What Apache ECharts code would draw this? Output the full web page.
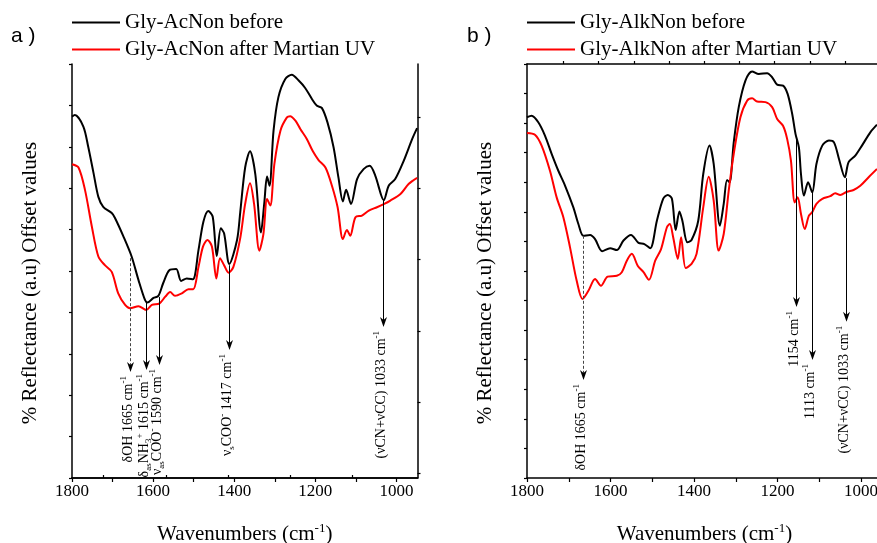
<!DOCTYPE html>
<html><head><meta charset="utf-8">
<script src="https://cdn.jsdelivr.net/npm/echarts@6/dist/echarts.min.js"></script>
<style>html,body{margin:0;padding:0;background:#fff}#c{width:877px;height:543px}</style>
</head><body><div id="c"></div>
<script>
// ---------- Panel a data ----------
const aBeforeX = [1800,1793,1772,1760,1747,1735,1723,1702,1694,1673,1653,1636,1620,1614,1599,1587,1575,1560,1543,1531,1517,1502,1488,1476,1464,1453,1443,1433,1425,1412,1393,1385,1373,1361,1348,1334,1326,1319,1313,1303,1291,1274,1258,1241,1225,1208,1196,1184,1170,1155,1143,1132,1124,1112,1097,1081,1066,1052,1031,1019,1003,982,961,949];
const aBeforeY = [8.73,8.77,8.49,8.00,7.37,6.79,6.55,6.40,6.28,5.83,5.35,4.78,4.30,4.24,4.35,4.40,4.71,5.02,5.05,4.76,4.82,4.80,5.51,6.19,6.45,6.31,5.36,6.03,5.91,5.17,5.75,6.43,7.50,7.89,7.34,5.93,6.62,7.28,7.06,8.39,9.20,9.64,9.74,9.60,9.42,9.15,8.99,8.94,8.59,7.99,7.26,6.68,6.96,6.62,7.22,7.46,7.54,7.30,6.71,7.06,7.22,7.66,8.19,8.45];
const aAfterX = [1800,1784,1768,1751,1735,1719,1702,1686,1669,1657,1636,1617,1603,1584,1570,1558,1546,1529,1513,1501,1488,1477,1466,1455,1444,1435,1425,1414,1402,1385,1373,1361,1351,1338,1328,1319,1311,1301,1286,1270,1262,1249,1237,1221,1206,1192,1175,1159,1145,1132,1122,1114,1101,1085,1068,1048,1030,1015,990,970,949];
const aAfterY = [7.58,7.50,6.96,6.07,5.35,5.14,4.98,4.46,4.18,4.10,4.15,4.06,4.18,4.22,4.38,4.49,4.40,4.46,4.56,4.56,5.10,5.59,5.75,5.59,4.82,5.31,5.14,4.96,5.10,5.80,6.62,7.12,6.62,5.49,5.89,6.74,6.58,7.58,8.39,8.71,8.74,8.63,8.43,8.19,7.89,7.68,7.50,7.06,6.54,5.77,5.99,5.85,6.30,6.34,6.46,6.54,6.62,6.70,6.86,7.10,7.25];
const aNames = ['Gly-AcNon before', 'Gly-AcNon after Martian UV'];
// annotations a: wavenumber, start value, arrow-tip value, label
const annoAX = [1657, 1617, 1586, 1414, 1032];
const annoAFrom = [5.31, 4.24, 4.37, 5.14, 6.71];
const annoATo = [2.56, 2.61, 2.73, 3.09, 3.65];
const annoADashed = [true, false, false, false, false];
const annoAText = ['δOH 1665 cm{sup|-1}', 'δ{sub|as}NH{sub|3}{sup|+} 1615 cm{sup|-1}', 'ν{sub|as}COO{sup|-} 1590 cm{sup|-1}', 'ν{sub|s}COO{sup|-} 1417 cm{sup|-1}', '(νCN+νCC) 1033 cm{sup|-1}'];

// ---------- Panel b data ----------
const bBeforeX = [1800,1789,1773,1757,1741,1725,1709,1689,1677,1665,1649,1637,1620,1601,1585,1569,1551,1533,1519,1505,1489,1474,1463,1453,1444,1435,1428,1416,1406,1390,1378,1363,1353,1338,1329,1321,1315,1305,1293,1277,1261,1245,1225,1213,1201,1187,1176,1165,1157,1149,1144,1137,1127,1117,1107,1093,1077,1065,1053,1039,1030,1014,998,978,962];
const bBeforeY = [12.20,12.25,12.03,11.58,10.96,10.39,9.89,9.15,8.59,8.19,8.22,8.08,7.67,7.77,7.71,8.03,8.22,7.95,7.91,7.77,8.70,9.44,9.57,9.44,8.39,9.01,8.70,7.97,8.05,8.70,10.28,11.24,10.62,8.53,9.27,10.08,10.00,11.35,12.54,13.44,13.75,13.66,13.69,13.55,13.30,13.27,12.99,12.31,11.63,11.18,10.28,9.55,10.00,9.66,10.62,11.24,11.41,11.35,10.79,10.17,10.68,10.90,11.24,11.69,11.95];
const bAfterX = [1800,1781,1765,1745,1729,1713,1697,1681,1667,1653,1637,1623,1607,1585,1573,1561,1549,1535,1521,1508,1493,1479,1465,1458,1450,1439,1431,1420,1406,1394,1378,1365,1353,1341,1329,1317,1305,1289,1273,1261,1249,1229,1213,1201,1187,1177,1168,1159,1152,1144,1135,1125,1117,1107,1093,1074,1062,1050,1034,1018,1002,982,962];
const bAfterY = [11.67,11.61,11.24,10.39,9.49,8.82,7.80,6.67,6.05,6.33,6.73,6.50,6.81,6.84,6.96,7.35,7.58,7.18,6.96,6.70,7.35,7.74,8.48,8.59,8.14,7.41,8.14,7.10,7.24,7.58,9.15,10.19,9.38,7.69,8.25,9.72,10.96,12.20,12.76,12.84,12.73,12.71,12.54,12.14,11.91,11.46,10.73,9.32,9.49,8.93,8.42,8.87,8.99,9.27,9.44,9.53,9.63,9.57,9.68,9.74,9.88,10.17,10.45];
const bNames = ['Gly-AlkNon before', 'Gly-AlkNon after Martian UV'];
const annoBX = [1666, 1156, 1117, 1037];
const annoBFrom = [8.19, 11.45, 9.64, 10.14];
const annoBTo = [3.31, 5.78, 3.99, 5.28];
const annoBDashed = [true, false, false, false];
const annoBText = ['δOH 1665 cm{sup|-1}', '1154 cm{sup|-1}', '1113 cm{sup|-1}', '(νCN+νCC) 1033 cm{sup|-1}'];

// ---------- axes ticks ----------
const xLabelVals = [1800, 1600, 1400, 1200, 1000];
const xTickVals = [1800, 1700, 1600, 1500, 1400, 1300, 1200, 1100, 1000];
const aTopTicks = [1723, 1568, 1414, 1262, 1108];
const aRightTicks = [0.11, 1.83, 3.55, 5.28, 6.99, 8.71];
const bTopTicks = [1713, 1629, 1544, 1460, 1375, 1292, 1208, 1122, 1038];
const panelLabels = ['a )', 'b )'];
const xTitle = 'Wavenumbers (cm{sup|-1})';
const yTitle = '% Reflectance (a.u) Offset values';

// ---------- build ----------
const SERIF = "'Liberation Serif','Times New Roman',serif";
const zip = (xs, ys) => xs.map((x, i) => [x, ys[i]]);
const axisLine = { show: true, lineStyle: { color: '#000', width: 1.5 } };

function xAxes(gi, min, topTicks) {
  return [
    { gridIndex: gi, type: 'value', min: min, max: 1800, inverse: true, position: 'bottom',
      axisLine: axisLine, splitLine: { show: false },
      axisTick: { show: true, length: 4, customValues: xTickVals, lineStyle: { color: '#000', width: 1.2 } },
      axisLabel: { show: true, customValues: xLabelVals, margin: 5, color: '#000', fontFamily: SERIF, fontSize: 17,
        formatter: v => String(v) },
      name: xTitle, nameLocation: 'middle', nameGap: 44,
      nameTextStyle: { color: '#000', fontFamily: SERIF, fontSize: 21, lineHeight: 24,
        rich: { sup: { fontSize: 13, fontFamily: SERIF, color: '#000', verticalAlign: 'top' } } } },
    { gridIndex: gi, type: 'value', min: min, max: 1800, inverse: true, position: 'top',
      axisLine: axisLine, splitLine: { show: false },
      axisTick: { show: true, length: 3, customValues: topTicks, lineStyle: { color: '#000', width: 1.2 } },
      axisLabel: { show: false } }
  ];
}
function yAxes(gi, max, rightTicks) {
  const arr = [
    { gridIndex: gi, type: 'value', min: 0, max: max, interval: 1, position: 'left',
      axisLine: axisLine, splitLine: { show: false },
      axisTick: { show: true, length: 3, lineStyle: { color: '#000', width: 1.2 } },
      axisLabel: { show: false },
      name: yTitle, nameLocation: 'middle', nameGap: 31, nameRotate: 90,
      nameTextStyle: { color: '#000', fontFamily: SERIF, fontSize: 21, padding: [0, 24, 0, 0] } }
  ];
  if (rightTicks) {
    arr.push({ gridIndex: gi, type: 'value', min: 0, max: max, position: 'right',
      axisLine: axisLine, splitLine: { show: false },
      axisTick: { show: true, length: 3, customValues: rightTicks, lineStyle: { color: '#000', width: 1.2 } },
      axisLabel: { show: false } });
  }
  return arr;
}

const richCustom = {
  sup: { fontSize: 9, fontFamily: SERIF, fill: '#000', verticalAlign: 'top' },
  sub: { fontSize: 9, fontFamily: SERIF, fill: '#000', verticalAlign: 'bottom' }
};
function annoSeries(xi, yi, xs, froms, tos, texts, dashed) {
  return {
    type: 'custom', xAxisIndex: xi, yAxisIndex: yi, z: 5, silent: true,
    data: xs.map((x, i) => [x, froms[i], tos[i], i]),
    encode: { x: 0, y: 1 },
    renderItem: function (params, api) {
      const i = api.value(3);
      const p0 = api.coord([api.value(0), api.value(1)]);
      const p1 = api.coord([api.value(0), api.value(2)]);
      const x = Math.round(p0[0]) + 0.5;
      return { type: 'group', children: [
        { type: 'line', shape: { x1: x, y1: p0[1], x2: x, y2: p1[1] - 4 },
          style: { stroke: dashed[i] ? '#444' : '#000', lineWidth: 1, lineDash: dashed[i] ? [3, 2] : null } },
        { type: 'polygon', shape: { points: [[x, p1[1]], [x - 3.5, p1[1] - 10], [x, p1[1] - 7], [x + 3.5, p1[1] - 10]] },
          style: { fill: '#000' } },
        { type: 'text', x: x - 2, y: p1[1] + 4, rotation: Math.PI / 2,
          style: { text: texts[i], align: 'right', verticalAlign: 'middle', fill: '#000',
            fontFamily: SERIF, fontSize: 14, lineHeight: 18, rich: richCustom } }
      ] };
    }
  };
}
function lineSeries(name, xi, yi, data, color) {
  return { type: 'line', name: name, xAxisIndex: xi, yAxisIndex: yi, data: data,
    showSymbol: false, symbol: 'none', smooth: 0.3, z: 3,
    lineStyle: { color: color, width: 2 }, itemStyle: { color: color } };
}
function legend(left, names) {
  return { left: left, top: 12, orient: 'vertical', padding: 0, itemGap: 6,
    itemWidth: 48, itemHeight: 2, icon: 'rect', data: names, selectedMode: false,
    textStyle: { fontFamily: SERIF, fontSize: 21, lineHeight: 21, color: '#000', padding: [0, 0, 0, 0] } };
}

const option = {
  animation: false,
  backgroundColor: '#fff',
  title: [
    { text: panelLabels[0], left: 11, top: 26, padding: 0, textStyle: { fontFamily: "'Liberation Sans',Arial,sans-serif", fontSize: 21, fontWeight: 'normal', color: '#000' } },
    { text: panelLabels[1], left: 467, top: 26, padding: 0, textStyle: { fontFamily: "'Liberation Sans',Arial,sans-serif", fontSize: 21, fontWeight: 'normal', color: '#000' } }
  ],
  legend: [legend(72, aNames), legend(527, bNames)],
  grid: [
    { left: 72, top: 64, width: 345.5, height: 414, outerBoundsMode: 'none', containLabel: false },
    { left: 527, top: 64, width: 355, height: 414, outerBoundsMode: 'none', containLabel: false }
  ],
  xAxis: [].concat(xAxes(0, 948, aTopTicks), xAxes(1, 950, bTopTicks)),
  yAxis: [].concat(yAxes(0, 10, aRightTicks), yAxes(1, 14, null)),
  series: [
    lineSeries(aNames[0], 0, 0, zip(aBeforeX, aBeforeY), '#000000'),
    lineSeries(aNames[1], 0, 0, zip(aAfterX, aAfterY), '#ff0000'),
    annoSeries(0, 0, annoAX, annoAFrom, annoATo, annoAText, annoADashed),
    lineSeries(bNames[0], 2, 2, zip(bBeforeX, bBeforeY), '#000000'),
    lineSeries(bNames[1], 2, 2, zip(bAfterX, bAfterY), '#ff0000'),
    annoSeries(2, 2, annoBX, annoBFrom, annoBTo, annoBText, annoBDashed)
  ]
};
const chart = echarts.init(document.getElementById('c'), null, { renderer: 'canvas' });
chart.setOption(option);
</script></body></html>
